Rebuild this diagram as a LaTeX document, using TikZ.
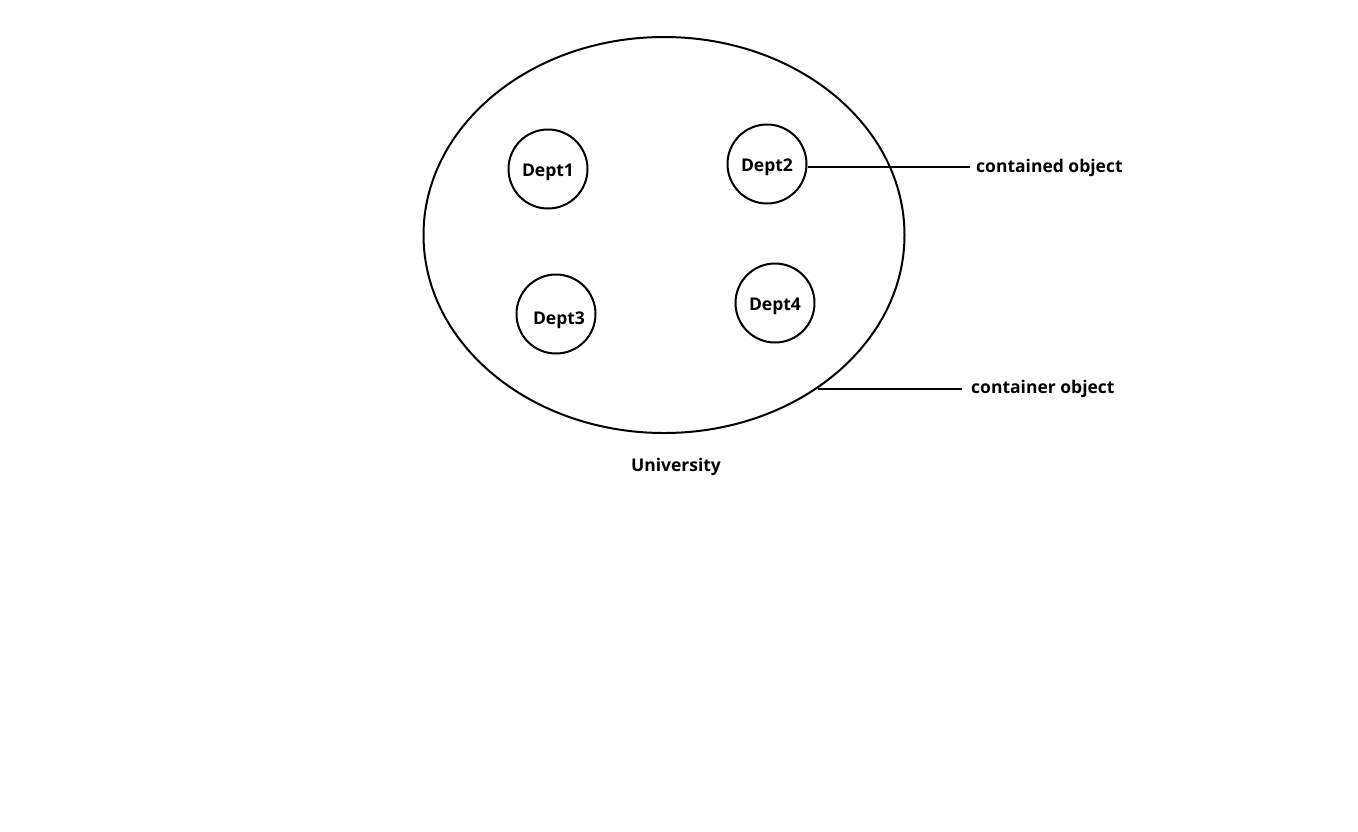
\documentclass[tikz,border=0pt]{standalone}
\usepackage{fontspec}
\setmainfont{Open Sans}
\usetikzlibrary{shapes.geometric}
\begin{document}
\begin{tikzpicture}[x=1pt,y=-1pt,
  txt/.style={font=\bfseries\fontsize{17.5}{20}\selectfont},
  lbl/.style={txt, inner sep=0pt},
  dept/.style={txt, circle, draw, line width=2pt, minimum size=79pt, inner sep=0pt, text height=16pt, text depth=2pt},
  conn/.style={line width=2pt}]
\useasboundingbox[fill=white] (0,0) rectangle (1358,831);
\node[ellipse, draw, line width=2pt, minimum width=481pt, minimum height=396pt, inner sep=0pt] (univ) at (664,235) {};
\node[dept] (d1) at (548,169) {Dept1};
\node[dept] (d2) at (767,164) {Dept2};
\node[dept, text height=23pt] (d3) at (556,314) {\hspace*{6pt}Dept3};
\node[dept, text height=17pt] (d4) at (775,303) {Dept4};
\node[lbl, anchor=west] (contained) at (976,168) {contained object};
\node[lbl, anchor=west] (container) at (971,389) {container object};
\node[lbl] (uname) at (676,467) {University};
\coordinate (c2) at (808,167);
\draw[conn, shorten >=6pt] (c2) -- (c2 -| contained.west);
\draw[conn, shorten >=9pt] (univ.-45.6) -- (univ.-45.6 -| container.west);
\end{tikzpicture}
\end{document}
